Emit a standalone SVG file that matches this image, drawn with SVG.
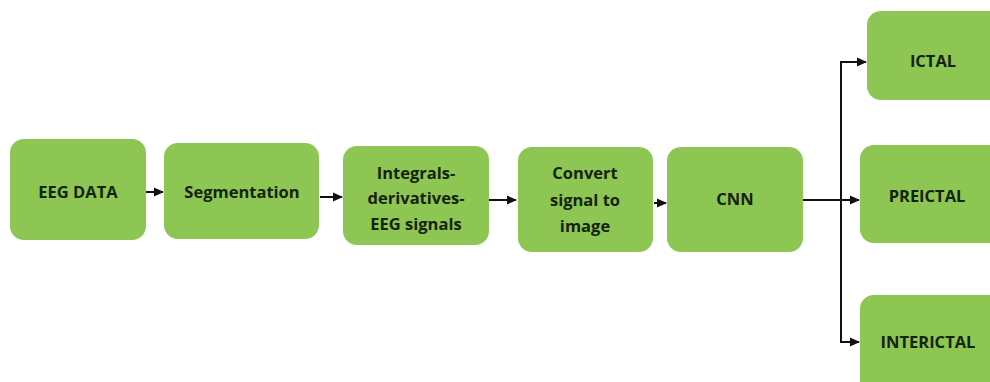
<svg xmlns="http://www.w3.org/2000/svg" width="990" height="382" viewBox="0 0 990 382">
  <defs>
    <marker id="arrow" viewBox="0 0 10 10" refX="9" refY="5" markerWidth="5" markerHeight="5" orient="auto" markerUnits="strokeWidth">
      <path d="M0,0.5 L10,5 L0,9.5 z" fill="#111"/>
    </marker>
    <style>
      .box { fill: #8dc653; }
      .lbl { font-family: "Open Sans", "Liberation Sans", sans-serif; font-weight: bold; font-size: 16.5px; fill: #15230b; text-anchor: middle; dominant-baseline: central; }
      .wire { fill: none; stroke: #111; stroke-width: 2; }
    </style>
  </defs>
  <rect width="990" height="382" fill="#ffffff"/>

  <g id="eeg-data">
    <rect class="box" x="10" y="139" width="136" height="101" rx="14"/>
    <text class="lbl" x="78" y="191">EEG DATA</text>
  </g>
  <g id="segmentation">
    <rect class="box" x="164" y="143" width="155" height="96" rx="14"/>
    <text class="lbl" x="242" y="191">Segmentation</text>
  </g>
  <g id="integrals">
    <rect class="box" x="343" y="146" width="146" height="99" rx="14"/>
    <text class="lbl" x="416" y="172">Integrals-</text>
    <text class="lbl" x="416" y="197">derivatives-</text>
    <text class="lbl" x="416" y="223">EEG signals</text>
  </g>
  <g id="convert">
    <rect class="box" x="518" y="147" width="135" height="105" rx="14"/>
    <text class="lbl" x="585" y="172">Convert</text>
    <text class="lbl" x="585" y="199">signal to</text>
    <text class="lbl" x="585" y="225">image</text>
  </g>
  <g id="cnn">
    <rect class="box" x="667" y="147" width="136" height="105" rx="14"/>
    <text class="lbl" x="735" y="198">CNN</text>
  </g>
  <g id="ictal">
    <rect class="box" x="867" y="11" width="140" height="89" rx="14"/>
    <text class="lbl" x="933" y="60">ICTAL</text>
  </g>
  <g id="preictal">
    <rect class="box" x="860" y="145" width="145" height="98" rx="14"/>
    <text class="lbl" x="927" y="195">PREICTAL</text>
  </g>
  <g id="interictal">
    <rect class="box" x="860" y="295" width="145" height="100" rx="14"/>
    <text class="lbl" x="928" y="341">INTERICTAL</text>
  </g>

  <g id="connectors">
    <line class="wire" x1="146" y1="192" x2="163" y2="192" marker-end="url(#arrow)"/>
    <line class="wire" x1="320" y1="197" x2="342" y2="197" marker-end="url(#arrow)"/>
    <line class="wire" x1="489" y1="200" x2="516" y2="200" marker-end="url(#arrow)"/>
    <line class="wire" x1="654" y1="203" x2="666" y2="203" marker-end="url(#arrow)"/>
    <line class="wire" x1="803" y1="200" x2="859" y2="200" marker-end="url(#arrow)"/>
    <line class="wire" x1="841" y1="61" x2="841" y2="343"/>
    <line class="wire" x1="840" y1="62" x2="866" y2="62" marker-end="url(#arrow)"/>
    <line class="wire" x1="840" y1="342" x2="859" y2="342" marker-end="url(#arrow)"/>
  </g>
</svg>
